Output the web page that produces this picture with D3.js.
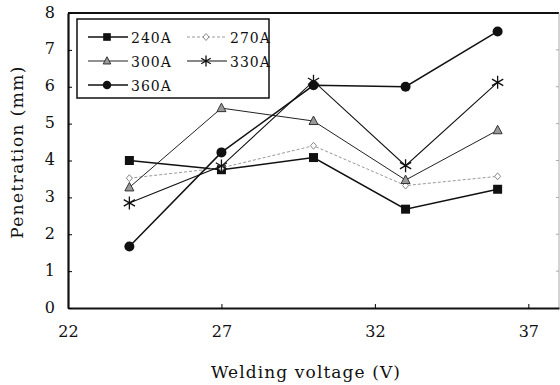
<!DOCTYPE html>
<html><head><meta charset="utf-8">
<script src="https://cdn.jsdelivr.net/npm/d3@7"></script>
<style>body{margin:0;background:#fff}svg{display:block}svg text{font-family:"DejaVu Serif",serif !important;fill:#111}</style>
</head><body><svg id="c" width="560" height="385"></svg>
<script>
const voltages = [24, 27, 30, 33, 36];
const seriesNames = ["240A", "270A", "300A", "330A", "360A"];
const v240 = [4.0, 3.75, 4.08, 2.68, 3.22];
const v270 = [3.52, 3.8, 4.4, 3.32, 3.57];
const v300 = [3.27, 5.42, 5.07, 3.47, 4.82];
const v330 = [2.85, 3.85, 6.15, 3.86, 6.12];
const v360 = [1.67, 4.22, 6.04, 6.0, 7.5];
const xTicks = [22, 27, 32, 37];
const yTicks = [0, 1, 2, 3, 4, 5, 6, 7, 8];

const series = [
  {name: seriesNames[0], values: v240, marker: "square", stroke: "#111", width: 1.5, dash: null},
  {name: seriesNames[1], values: v270, marker: "diamond", stroke: "#999", width: 1, dash: "3,2"},
  {name: seriesNames[2], values: v300, marker: "triangle", stroke: "#222", width: 1, dash: null},
  {name: seriesNames[3], values: v330, marker: "asterisk", stroke: "#111", width: 1.1, dash: null},
  {name: seriesNames[4], values: v360, marker: "circle", stroke: "#111", width: 1.5, dash: null}
];

const svg = d3.select("#c");
const L = 68, R = 559, T = 13, B = 308;
const x = d3.scaleLinear().domain([22, 38]).range([L, R]);
const y = d3.scaleLinear().domain([0, 8]).range([B, T]);

// frame
svg.append("line").attr("x1", L).attr("x2", R).attr("y1", T).attr("y2", T).attr("stroke", "#111").attr("stroke-width", 2);
svg.append("line").attr("x1", R).attr("x2", R).attr("y1", T).attr("y2", B).attr("stroke", "#aaa").attr("stroke-width", 1);

// axes
const xAxis = svg.append("g").attr("transform", `translate(0,${B})`)
  .call(d3.axisBottom(x).tickValues(xTicks).tickSizeInner(-4).tickSizeOuter(0).tickPadding(18));
xAxis.select(".domain").attr("stroke", "#111").attr("stroke-width", 2.2);
xAxis.selectAll("text").style("font-size", "16px");

const yAxis = svg.append("g").attr("transform", `translate(${L},0)`)
  .call(d3.axisLeft(y).tickValues(yTicks).tickSizeInner(-4).tickSizeOuter(0).tickPadding(13));
yAxis.select(".domain").attr("stroke", "#111").attr("stroke-width", 2.2);
yAxis.selectAll("text").style("font-size", "16px").attr("dy", "0.25em");

// right axis ticks
svg.append("g").selectAll("line").data(yTicks.slice(1, -1)).join("line")
  .attr("x1", R - 3).attr("x2", R).attr("y1", d => y(d)).attr("y2", d => y(d)).attr("stroke", "#aaa");

// titles
svg.append("text").attr("x", 306).attr("y", 378).attr("text-anchor", "middle").style("font-size", "17px")
  .attr("letter-spacing", 1.1).text("Welding voltage (V)");
svg.append("text").attr("transform", "translate(23,152) rotate(-90)").attr("text-anchor", "middle").style("font-size", "17px")
  .attr("letter-spacing", 1.4).text("Penetration (mm)");

function drawMarker(g, type, cx, cy, s) {
  s = s || 1;
  if (type === "square") {
    g.append("rect").attr("x", cx - 4.5 * s).attr("y", cy - 4.5 * s).attr("width", 9 * s).attr("height", 9 * s).attr("fill", "#111");
  } else if (type === "diamond") {
    g.append("path").attr("d", `M${cx},${cy-3.5}L${cx+3},${cy}L${cx},${cy+3.5}L${cx-3},${cy}Z`).attr("fill", "#fff").attr("stroke", "#888").attr("stroke-width", 1);
  } else if (type === "triangle") {
    g.append("path").attr("d", `M${cx},${cy-5*s}L${cx+4.5*s},${cy+3.5*s}L${cx-4.5*s},${cy+3.5*s}Z`).attr("fill", "#999").attr("stroke", "#333").attr("stroke-width", 1);
  } else if (type === "asterisk") {
    const r = 6.5 * s;
    const p = [];
    [90, 30, 150].forEach(deg => {
      const a = deg * Math.PI / 180;
      p.push(`M${cx - r * Math.cos(a)},${cy - r * Math.sin(a)}L${cx + r * Math.cos(a)},${cy + r * Math.sin(a)}`);
    });
    g.append("path").attr("d", p.join("")).attr("stroke", "#111").attr("stroke-width", 1.3).attr("fill", "none");
  } else if (type === "circle") {
    g.append("circle").attr("cx", cx).attr("cy", cy).attr("r", 5 * s).attr("fill", "#111");
  }
}

const line = d3.line().x((d, i) => x(voltages[i])).y(d => y(d));
series.forEach(s => {
  const g = svg.append("g");
  g.append("path").attr("d", line(s.values)).attr("fill", "none").attr("stroke", s.stroke)
    .attr("stroke-width", s.width).attr("stroke-dasharray", s.dash);
  s.values.forEach((v, i) => drawMarker(g, s.marker, x(voltages[i]), y(v)));
});

// legend
const lg = svg.append("g");
lg.append("rect").attr("x", 77).attr("y", 19).attr("width", 192).attr("height", 79).attr("fill", "#fff").attr("stroke", "#111").attr("stroke-width", 1.5);
series.forEach((s, i) => {
  const col = i % 2, row = Math.floor(i / 2);
  const lx = col === 0 ? 88 : 187;
  const ly = 37 + row * 24;
  lg.append("line").attr("x1", lx).attr("x2", lx + 40).attr("y1", ly).attr("y2", ly)
    .attr("stroke", s.stroke).attr("stroke-width", s.width).attr("stroke-dasharray", s.dash);
  drawMarker(lg, s.marker, lx + 19, ly, 0.85);
  lg.append("text").attr("x", lx + 43).attr("y", ly + 5.5).style("font-size", "14px").attr("letter-spacing", 1).text(s.name);
});
</script></body></html>
